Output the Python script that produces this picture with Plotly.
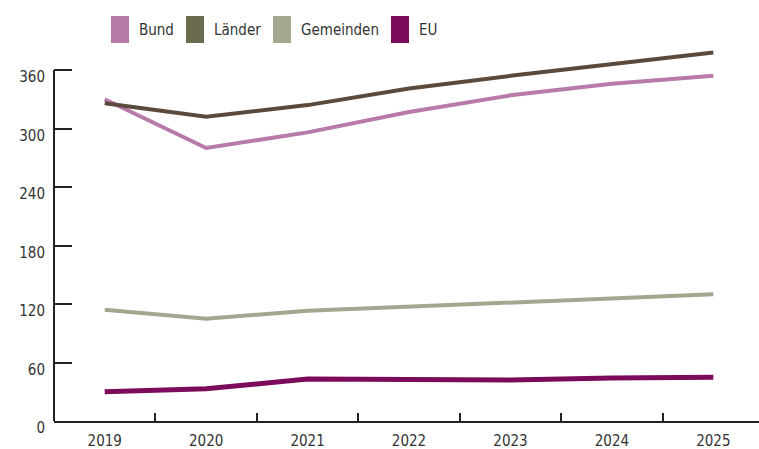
import plotly.graph_objects as go

years = ["2019", "2020", "2021", "2022", "2023", "2024", "2025"]
bund = [330, 280, 296, 317, 334, 346, 354]
laender = [326, 312, 324, 341, 354, 366, 378]
gemeinden = [114, 105, 113, 117, 121, 126, 130]
eu = [30, 33, 43, 42, 42, 44, 45]

y_ticks = [0, 60, 120, 180, 240, 300, 360]

series = [
    ("Bund", bund, "#b87aa9", "#b87aa9", 4),
    ("Länder", laender, "#5a4a3e", "#6b6c4f", 4),
    ("Gemeinden", gemeinden, "#a4a78f", "#a5a88e", 4),
    ("EU", eu, "#7c0b5b", "#7c0b5b", 5),
]

FONT = "DejaVu Sans Condensed, sans-serif"
W, H = 759, 449
ML, MR, MT, MB = 54, 0, 31, 28
PW, PH = W - ML - MR, H - MT - MB

fig = go.Figure()
for name, vals, col, _, lw in series:
    fig.add_trace(go.Scatter(
        x=years, y=vals, mode="lines", name=name,
        line=dict(color=col, width=lw, shape="linear"),
        showlegend=False,
    ))

# y axis line drawn only up to the top tick
fig.add_shape(type="line", xref="paper", yref="y", x0=0, x1=0, y0=0, y1=max(y_ticks),
              line=dict(color="#222222", width=2))


def px_x(p):
    return (p - ML) / PW


def px_y(p):
    return (H - MB - p) / PH


# legend: swatch left edge and label left edge, in pixels
legend_items = [(111, 137), (186, 212), (273, 299), (391, 417)]
for (sx, tx), (name, _, _, swatch, _) in zip(legend_items, series):
    fig.add_shape(type="rect", xref="paper", yref="paper",
                  x0=px_x(sx), x1=px_x(sx + 18), y0=px_y(43), y1=px_y(16),
                  fillcolor=swatch, line=dict(width=0), layer="above")
    fig.add_annotation(xref="paper", yref="paper", x=px_x(tx), y=px_y(30),
                       text=name, showarrow=False, xanchor="left", yanchor="middle",
                       font=dict(family=FONT, size=15, color="#333333"))

fig.update_layout(
    width=W, height=H,
    margin=dict(l=ML, r=MR, t=MT, b=MB),
    paper_bgcolor="white", plot_bgcolor="white",
    font=dict(family=FONT, size=15, color="#333333"),
)
fig.update_xaxes(
    type="category", range=[-0.5, 6.45],
    showline=True, linecolor="#222222", linewidth=2,
    ticks="inside", tickson="boundaries", ticklen=8, tickwidth=2, tickcolor="#222222",
    showgrid=False, zeroline=False, ticklabelstandoff=5,
    tickfont=dict(family=FONT, size=15, color="#333333"),
)
fig.update_yaxes(
    range=[0, 400], tickvals=y_ticks, ticktext=[str(v) for v in y_ticks],
    showline=False, showgrid=False, zeroline=False,
    ticks="inside", ticklen=18, tickwidth=2, tickcolor="#222222",
    ticklabelshift=7, ticklabelstandoff=8,
    tickfont=dict(family=FONT, size=15, color="#333333"),
)

fig.write_html("out.html")
